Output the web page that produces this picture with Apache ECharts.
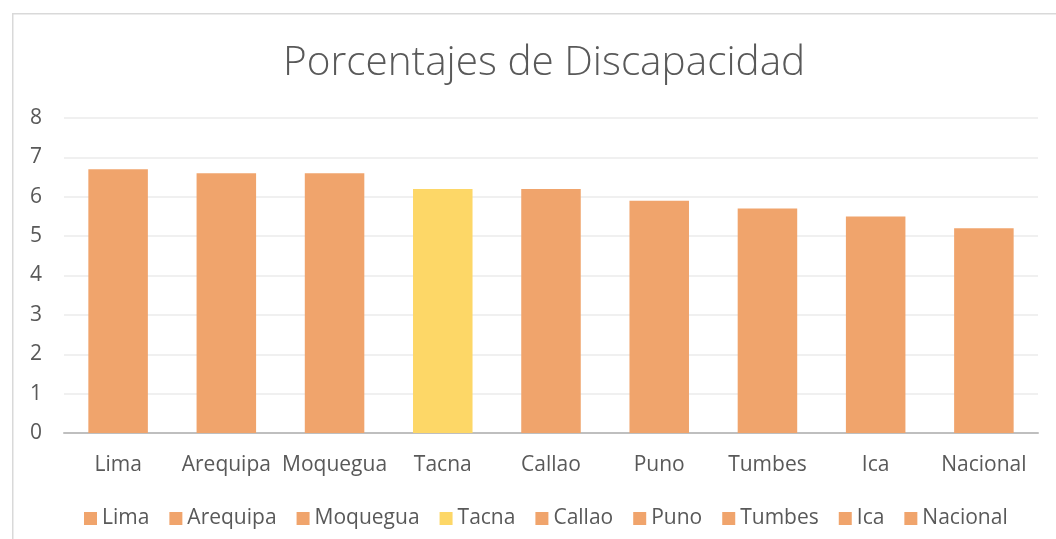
<!DOCTYPE html>
<html><head><meta charset="utf-8">
<script src="https://cdn.jsdelivr.net/npm/echarts@6/dist/echarts.min.js"></script>
<style>html,body{margin:0;padding:0;background:#fff}#c{width:1056px;height:539px}</style>
</head><body><div id="c"></div>
<script>
const categories = ['Lima','Arequipa','Moquegua','Tacna','Callao','Puno','Tumbes','Ica','Nacional'];
const values = [6.7, 6.6, 6.6, 6.2, 6.2, 5.9, 5.7, 5.5, 5.2];
const colors = ['#F0A46C','#F0A46C','#F0A46C','#FDD767','#F0A46C','#F0A46C','#F0A46C','#F0A46C','#F0A46C'];
const yTicks = [0,1,2,3,4,5,6,7,8];

const font = '"Open Sans", "Noto Sans", sans-serif';
const series = categories.map((name, i) => ({
  name: name,
  type: 'bar',
  stack: 'all',
  barWidth: '55%',
  itemStyle: { color: colors[i] },
  data: categories.map((c, j) => j === i ? values[i] : '-')
}));

const chart = echarts.init(document.getElementById('c'), null, {renderer:'canvas'});
chart.setOption({
  animation: false,
  color: colors,
  graphic: [{
    type: 'rect', left: 12, top: 13, z: -10,
    shape: { width: 1100, height: 600 },
    style: { fill: '#fff', stroke: '#D9D9D9', lineWidth: 1.5 }
  }],
  title: {
    text: 'Porcentajes de Discapacidad',
    left: 278, top: 38,
    textStyle: { fontFamily: font, fontWeight: 300, fontSize: 40.5, color: '#595959' }
  },
  grid: { left: 64, right: 18, top: 118, bottom: 106, containLabel: false },
  legend: {
    bottom: 10, left: 84, padding: 0,
    itemWidth: 13, itemHeight: 13, itemGap: 20,
    icon: 'rect',
    textStyle: { fontFamily: font, fontSize: 21, color: '#595959' },
    data: categories
  },
  xAxis: {
    type: 'category', data: categories,
    axisLine: { lineStyle: { color: '#BFBFBF', width: 2 } },
    axisTick: { show: false },
    axisLabel: { fontFamily: font, fontSize: 21, color: '#595959', margin: 22, interval: 0 }
  },
  yAxis: {
    type: 'value', min: yTicks[0], max: yTicks[yTicks.length-1], interval: 1,
    axisLine: { show: false }, axisTick: { show: false },
    splitLine: { lineStyle: { color: '#EBEBEB', width: 1.5 } },
    axisLabel: { fontFamily: font, fontSize: 21, color: '#595959', margin: 22 }
  },
  series: series
});
</script></body></html>
